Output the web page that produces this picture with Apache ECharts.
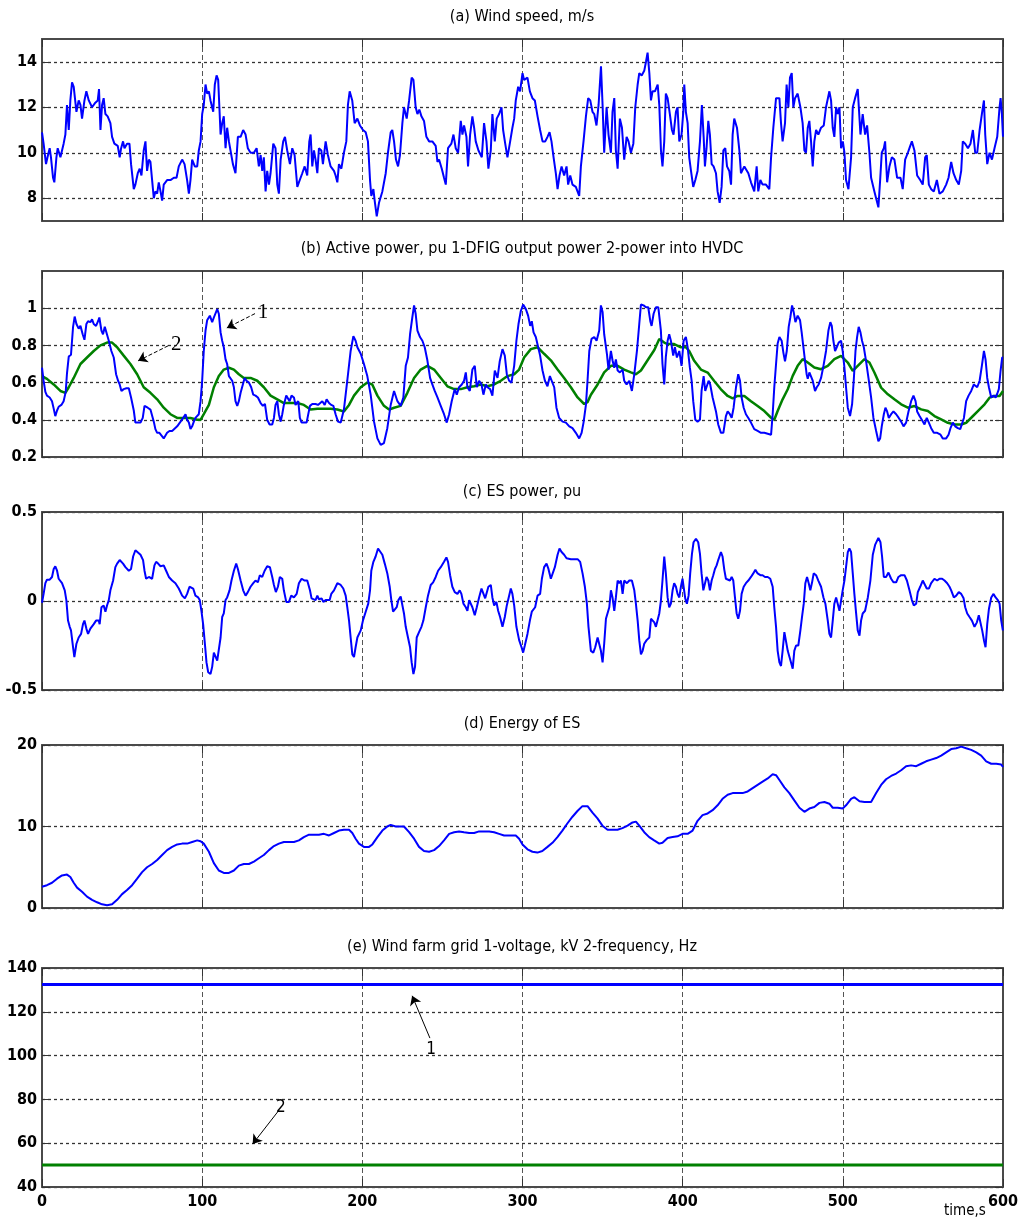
<!DOCTYPE html>
<html>
<head>
<meta charset="utf-8">
<script src="https://cdn.jsdelivr.net/npm/echarts@6/dist/echarts.min.js"></script>
<style>
  html, body { margin: 0; padding: 0; background: #fff; }
  #chart { width: 1021px; height: 1220px; }
</style>
</head>
<body>
<div id="chart"></div>
<script>
// (a) wind speed, m/s  [time s, value]
const windSpeed = [[0,10.9],[1,10.4],[2.5,9.5],[3.75,9.9],[4.8,10.2],[5.6,9.8],[6.9,8.9],[7.7,8.7],[9,9.8],[9.8,10.2],[11.5,9.8],[13.5,10.4],[14.6,10.8],[15.6,12.1],[16.7,11.0],[17.7,12.3],[18.75,13.1],[19.8,12.9],[21.5,11.8],[22.9,12.3],[24,12.1],[25,11.5],[26.5,12.3],[27.7,12.7],[29.2,12.3],[31.25,12.0],[33.3,12.2],[34.8,12.3],[35.6,12.8],[36.5,11.0],[37.5,12.1],[38.5,12.4],[39.6,11.7],[41,11.6],[42.7,11.3],[43.75,10.7],[45.2,10.4],[47.3,10.3],[48.5,9.8],[49.4,10.2],[50.6,10.5],[51.5,10.2],[53.1,10.4],[54.6,10.4],[55.6,9.5],[57.3,8.4],[58.3,8.6],[59.8,9.1],[61,9.3],[62.1,9.0],[63.5,10.1],[64.6,10.5],[65.6,9.2],[66.7,9.7],[67.7,9.6],[68.75,8.8],[69.8,8.0],[70.8,8.3],[71.9,8.2],[72.9,8.7],[74,8.3],[75,7.9],[76,8.6],[78.1,8.8],[80.2,8.8],[82.3,8.9],[84,8.9],[85.4,9.4],[87.5,9.7],[89,9.5],[90.6,8.8],[91.7,8.2],[92.7,8.8],[93.75,9.7],[95.4,9.4],[96.9,9.4],[97.9,10.1],[99,10.5],[100,11.7],[101,12.1],[102.1,13.0],[103.1,12.6],[104.2,12.7],[105.2,12.3],[106.9,11.8],[107.9,13.0],[109,13.4],[110,13.2],[111.5,10.8],[112.5,11.3],[113.5,11.6],[114.6,10.2],[115.6,11.1],[116.7,10.5],[117.7,10.1],[119.2,9.5],[120.8,9.1],[122.3,10.7],[124,10.7],[125.6,11.0],[127.1,10.8],[128.5,10.2],[130.2,10.0],[132.3,10.0],[134,10.2],[135.4,9.4],[136.5,9.9],[137.5,9.2],[138.5,9.8],[139.6,8.3],[140.6,9.2],[141.7,8.6],[142.7,9.1],[144.4,10.4],[145.8,10.2],[146.9,8.6],[147.9,8.2],[149,9.7],[150.6,10.5],[151.7,10.7],[153.1,10.1],[154.8,9.5],[156.25,10.2],[157.7,9.9],[159.4,8.5],[160.4,8.7],[162.5,9.1],[164,9.4],[165.6,9.0],[166.9,10.5],[167.7,10.8],[168.75,9.4],[169.8,10.1],[170.8,9.7],[171.9,9.1],[172.9,10.2],[174.4,10.1],[175.4,9.5],[177.1,10.5],[178.5,9.9],[180.2,9.4],[182.3,9.2],[183.3,9.0],[184.4,8.7],[185.4,9.5],[186.9,9.3],[188.5,10.0],[190,10.5],[191,12.1],[192.1,12.7],[193.7,12.3],[195.2,11.3],[196.9,11.5],[198.5,11.2],[200.4,11.0],[202.1,10.9],[203.5,10.5],[204.8,8.8],[205.6,8.1],[206.9,8.4],[207.7,7.9],[209,7.2],[210.4,7.8],[212.5,8.3],[214.6,9.1],[216,10.0],[217.7,10.9],[218.7,11.0],[219.8,10.5],[221,9.7],[222.3,9.4],[223.5,9.9],[225,11.3],[226,12.0],[227.7,11.5],[229.2,12.3],[230.8,13.3],[231.9,13.2],[233.3,12.0],[234.4,11.7],[235.6,11.9],[236.9,11.6],[238.5,11.4],[240,10.7],[241.7,10.5],[243.7,10.5],[245.8,10.3],[246.9,9.6],[247.9,9.7],[249.6,9.3],[251,8.9],[252.1,8.6],[253.5,10.2],[255.6,10.4],[256.9,10.8],[258.3,10.2],[259.8,10.0],[261.45,11.4],[262.5,10.8],[263.5,11.2],[265,10.7],[266,9.4],[267.3,10.8],[268.7,11.6],[269.8,11.1],[270.8,10.5],[272.5,10.1],[274.6,9.8],[276,11.3],[277.5,10.5],[278.7,9.3],[280.2,10.1],[281.2,11.7],[282.7,10.5],[283.9,11.5],[285.4,11.7],[286.9,12.0],[287.9,11.0],[289.2,10.4],[290.6,9.8],[292.3,10.5],[293.7,11.1],[294.8,11.5],[295.8,12.3],[297.3,12.9],[298.5,12.7],[300,13.5],[301,13.2],[303.1,13.3],[304.6,12.7],[306.2,12.4],[307.7,12.3],[309.4,11.6],[311,11.0],[312.5,10.5],[314.2,10.5],[315.6,10.7],[316.9,10.9],[318.1,10.5],[319.4,9.8],[320.8,9.1],[321.9,8.4],[323.1,9.0],[324.4,9.4],[326,9.0],[327.5,9.4],[328.5,8.6],[329.8,9.0],[331.2,8.6],[333.3,8.5],[335.4,8.1],[336.45,9.4],[338.1,10.5],[339.6,11.6],[341,12.4],[342.3,12.3],[343.7,11.8],[344.8,11.7],[346.2,11.2],[347.5,12.1],[349,13.8],[350,12.1],[351,10.0],[352.5,12.0],[353.7,10.8],[355.2,10.0],[356.2,11.8],[357.3,12.4],[358.3,10.1],[359.4,9.3],[360.8,11.5],[362.1,11.1],[363.5,9.7],[365,10.7],[366.2,10.5],[367.7,10.0],[369.2,10.4],[370.4,12.0],[371.9,13.0],[372.9,13.5],[374.4,13.4],[376,13.6],[377.1,14.0],[378.1,14.4],[379.2,13.5],[380.2,12.3],[381.2,12.7],[382.7,12.7],[384.4,13.0],[385.4,12.1],[386.45,10.1],[387.4,9.4],[388.5,10.5],[389.5,12.6],[390.6,12.4],[392,11.7],[393.3,11.0],[394.3,10.8],[395.8,11.8],[396.8,12.0],[397.9,10.5],[399.3,10.8],[400.4,11.8],[401,13.0],[402,11.8],[403.1,11.3],[404.1,9.8],[405.2,9.2],[406.6,8.5],[407.9,8.8],[409.3,9.2],[410.8,10.5],[412,12.1],[413.1,10.7],[413.9,9.4],[414.9,10.2],[416,11.4],[417,10.8],[418.1,9.5],[419.3,9.4],[420.8,9.1],[421.8,8.3],[423.1,7.8],[424.3,8.5],[425.4,10.1],[426.6,10.2],[427.7,9.4],[429.1,9.2],[430.2,8.6],[431.2,10.8],[432.2,11.5],[433.9,11.1],[435.4,10.1],[436.4,9.1],[438.5,9.4],[441,9.1],[442.65,8.7],[444.7,8.3],[446.2,9.4],[447.2,8.3],[448.5,8.8],[449.9,8.6],[452,8.6],[454.1,8.4],[455.2,9.8],[456.6,11.1],[458.3,12.4],[460.4,12.4],[461.4,11.3],[462.4,10.5],[463.9,11.3],[464.9,13.0],[466,12.0],[467,13.3],[468.1,13.5],[469.1,12.0],[470.15,12.4],[471.8,12.6],[473.5,12.0],[474.9,11.3],[476,10.1],[477,10.0],[478.1,11.1],[479.1,11.4],[480.15,10.5],[481.2,9.4],[482.2,10.5],[483.3,11.0],[484.7,10.8],[486.4,11.1],[488.1,11.2],[489.5,12.0],[491.6,12.7],[492.65,12.3],[493.7,11.1],[494.7,10.7],[495.8,12.0],[496.8,11.7],[497.9,12.0],[498.9,10.2],[500,10.5],[501,10.0],[502,8.8],[503.5,8.4],[505.15,9.8],[506.2,12.0],[507.65,12.4],[509.3,12.8],[511,10.8],[512.4,11.7],[513.9,10.8],[515.15,11.2],[516.6,10.0],[517.65,8.9],[519.7,8.3],[522.2,7.6],[523.3,8.8],[524.3,10.0],[525.6,10.2],[526.4,10.5],[527.65,8.7],[529.1,9.4],[530.6,9.8],[532.2,9.7],[533.9,8.9],[536,8.9],[537.4,8.4],[538.9,9.7],[540.6,10.0],[541.6,10.2],[543.1,10.5],[544.7,10.1],[546.4,9.0],[548.3,8.8],[549.9,8.6],[551.4,9.8],[552.4,9.9],[553.7,8.6],[555.15,8.4],[556.8,8.3],[558.7,8.8],[560.35,8.2],[562.4,8.3],[564.5,8.6],[566,8.9],[567.65,9.6],[569.1,9.1],[570.8,8.8],[572.4,8.6],[573.9,9.2],[574.9,10.5],[576.4,10.4],[578.1,10.2],[579.7,10.4],[581.2,11.0],[582.65,10.0],[583.9,10.0],[585.4,11.0],[586.8,11.7],[588.1,12.3],[588.9,10.8],[590.15,9.5],[591.6,10.0],[593.1,9.7],[594.7,10.2],[596.4,10.7],[597.85,12.0],[598.5,12.4],[599.3,11.7],[600,10.7]];

// (b) active power, pu: 1 - DFIG output power
const dfigPower = [[0,0.68],[1,0.61],[2.1,0.55],[3.1,0.53],[4.8,0.52],[6.25,0.50],[7.3,0.46],[8.3,0.42],[9.4,0.45],[10.4,0.47],[12.1,0.48],[13.5,0.50],[14.8,0.55],[15.6,0.65],[16.7,0.74],[18.1,0.75],[19.4,0.90],[20.4,0.955],[21.5,0.915],[22.9,0.89],[24,0.905],[25.4,0.86],[26.5,0.83],[27.7,0.915],[28.75,0.93],[30.2,0.925],[31.25,0.94],[32.3,0.915],[33.75,0.905],[35,0.93],[35.8,0.95],[37.1,0.88],[38.1,0.86],[39.2,0.90],[40.2,0.89],[41.7,0.825],[43.3,0.77],[44.8,0.735],[46.25,0.645],[47.5,0.61],[48.5,0.59],[49.6,0.555],[51,0.565],[52.7,0.57],[54.2,0.57],[55.6,0.52],[57.3,0.45],[58.3,0.385],[59.8,0.385],[61.5,0.385],[62.9,0.41],[64,0.475],[65,0.485],[66,0.465],[67.7,0.455],[68.75,0.455],[69.8,0.39],[70.8,0.35],[71.9,0.33],[73.3,0.33],[74.4,0.32],[76,0.30],[77.1,0.31],[78.1,0.33],[79.6,0.34],[81.25,0.34],[82.3,0.35],[84.4,0.365],[86.5,0.39],[88.1,0.41],[89.6,0.43],[90.6,0.40],[91.7,0.385],[92.7,0.35],[93.75,0.365],[94.8,0.39],[95.8,0.41],[96.9,0.40],[97.9,0.43],[99,0.50],[100,0.61],[101,0.77],[102.1,0.88],[103.1,0.935],[104.8,0.96],[106.25,0.925],[107.3,0.95],[108.3,0.96],[109.4,0.995],[110.4,0.97],[111.5,0.87],[112.5,0.825],[113.5,0.79],[114.6,0.725],[115.6,0.70],[116.7,0.635],[117.7,0.625],[118.75,0.61],[119.8,0.575],[120.8,0.50],[121.9,0.475],[122.9,0.50],[124,0.545],[125.4,0.59],[126.5,0.625],[127.7,0.61],[129.2,0.60],[130.6,0.575],[131.9,0.535],[133.3,0.53],[134.8,0.52],[136.5,0.49],[137.9,0.475],[139.2,0.485],[140.6,0.40],[142.1,0.375],[143.75,0.375],[144.8,0.41],[145.8,0.48],[146.9,0.50],[147.9,0.43],[149,0.39],[150,0.43],[151,0.48],[152.5,0.53],[153.5,0.52],[154.6,0.50],[155.8,0.53],[157.3,0.52],[158.3,0.48],[160,0.50],[161,0.41],[162.1,0.385],[163.5,0.385],[165.2,0.385],[166,0.42],[167.3,0.475],[168.75,0.485],[169.8,0.475],[170.8,0.485],[172.3,0.48],[173.5,0.485],[175,0.50],[176.5,0.48],[177.7,0.51],[179.2,0.49],[180.6,0.48],[181.9,0.475],[183.3,0.43],[184.8,0.39],[186.5,0.385],[188.5,0.455],[190.6,0.61],[192.7,0.77],[194.4,0.85],[195.8,0.825],[196.9,0.79],[199,0.755],[201,0.70],[203.1,0.635],[205.2,0.535],[207.3,0.39],[209.4,0.30],[211.45,0.265],[213.5,0.275],[215.6,0.355],[217.7,0.48],[219.8,0.555],[221.9,0.50],[223.95,0.475],[225.6,0.52],[227.1,0.69],[228.5,0.735],[229.8,0.86],[231.2,0.95],[232.3,1.015],[233.3,0.97],[234.4,0.88],[236,0.845],[237.5,0.825],[238.95,0.79],[240.6,0.72],[242.3,0.625],[243.7,0.59],[245.2,0.555],[246.9,0.52],[248.95,0.475],[251,0.43],[252.7,0.385],[254.2,0.43],[255.8,0.50],[257.7,0.565],[258.95,0.535],[260.4,0.575],[262.1,0.59],[263.5,0.61],[264.6,0.655],[265.6,0.575],[267.1,0.555],[268.7,0.67],[270.2,0.69],[271.45,0.575],[272.9,0.61],[274.4,0.59],[275.6,0.535],[277.1,0.59],[278.1,0.575],[279.8,0.565],[281.2,0.53],[282.7,0.665],[284.4,0.625],[285.8,0.715],[287.5,0.78],[288.95,0.745],[290.2,0.645],[291.65,0.61],[293.1,0.60],[294.8,0.69],[296.2,0.825],[297.5,0.915],[298.95,0.985],[300.4,1.02],[302.1,0.995],[303.5,0.96],[304.8,0.905],[305.8,0.93],[306.9,0.87],[308.3,0.845],[309.8,0.79],[311,0.745],[312.5,0.665],[314,0.61],[315.6,0.58],[317.1,0.635],[318.3,0.625],[319.8,0.575],[321.2,0.465],[322.9,0.41],[325,0.39],[327.1,0.385],[329.2,0.365],[331.2,0.355],[333.3,0.33],[335.4,0.30],[336.9,0.33],[338.1,0.385],[339.6,0.48],[340.6,0.61],[341.7,0.77],[343.1,0.835],[344.8,0.845],[346.25,0.825],[347.9,0.88],[348.95,1.015],[350,0.98],[351,0.86],[352.7,0.755],[353.7,0.67],[355.2,0.77],[356.2,0.72],[357.3,0.68],[358.3,0.725],[359.4,0.665],[360.8,0.655],[362.5,0.67],[363.5,0.61],[365,0.59],[366.7,0.61],[368.3,0.555],[369.8,0.645],[371.45,0.77],[372.9,0.915],[373.95,1.02],[375.6,1.015],[377.1,1.005],[378.5,1.005],[379.8,0.93],[380.6,0.905],[381.85,0.97],[383.3,1.005],[384.8,1.005],[386.4,0.88],[387.4,0.70],[388.5,0.59],[389.5,0.74],[390.6,0.825],[391.6,0.86],[392.65,0.825],[394.1,0.745],[395.15,0.79],[396.4,0.735],[397.9,0.77],[399.3,0.69],[400.6,0.825],[402,0.845],[403.1,0.79],[404.5,0.68],[405.6,0.61],[406.6,0.50],[407.9,0.40],[409.3,0.39],[410.8,0.40],[411.8,0.555],[413.1,0.635],[414.1,0.555],[415.15,0.545],[416.2,0.61],[417.2,0.59],[418.7,0.52],[420.8,0.445],[422.2,0.375],[423.9,0.33],[425.4,0.33],[427,0.42],[428.1,0.445],[429.5,0.43],[430.6,0.41],[431.8,0.465],[433.3,0.575],[434.7,0.645],[435.8,0.61],[436.8,0.52],[438.1,0.465],[439.5,0.43],[441,0.41],[442.65,0.385],[444.7,0.35],[446.8,0.34],[448.9,0.33],[451,0.33],[453.1,0.325],[455.2,0.32],[456.2,0.43],[457.2,0.575],[458.3,0.70],[459.3,0.81],[460.4,0.845],[461.8,0.825],[462.9,0.76],[463.9,0.715],[465,0.77],[466.2,0.90],[467.2,0.95],[468.3,1.015],[469.3,0.98],[470.4,0.925],[471.8,0.96],[473.3,0.935],[474.3,0.87],[475.4,0.79],[476.4,0.715],[477.4,0.645],[478.1,0.62],[479.1,0.655],[480.15,0.665],[481.2,0.61],[482.65,0.555],[483.7,0.575],[484.9,0.59],[486.4,0.625],[487.9,0.69],[489.5,0.77],[491,0.88],[492.2,0.925],[493.1,0.905],[494.1,0.825],[495.15,0.77],[496.2,0.79],[497.4,0.815],[498.9,0.825],[499.9,0.77],[501,0.68],[502,0.575],[503.1,0.465],[504.5,0.42],[505.8,0.485],[506.8,0.61],[507.9,0.77],[508.9,0.845],[509.9,0.90],[511,0.87],[512,0.825],[513.1,0.79],[514.5,0.715],[516,0.625],[517.65,0.52],[519.1,0.41],[520.8,0.34],[522.2,0.285],[523.3,0.30],[524.3,0.365],[525.6,0.43],[526.6,0.465],[527.65,0.445],[528.7,0.41],[530.15,0.43],[531.6,0.445],[533.3,0.43],[534.9,0.41],[536.4,0.39],[537.9,0.365],[539.5,0.385],[541,0.445],[542.65,0.50],[544.1,0.53],[545.4,0.50],[546.4,0.445],[547.9,0.42],[549.3,0.40],[551,0.375],[552.4,0.41],[553.7,0.385],[555.15,0.355],[556.8,0.33],[558.9,0.33],[561,0.32],[562.4,0.30],[564.5,0.30],[566,0.32],[567.2,0.355],[568.7,0.385],[570.15,0.365],[571.8,0.355],[573.3,0.35],[574.5,0.355],[575.6,0.41],[577,0.50],[578.5,0.53],[580.15,0.555],[581.8,0.59],[582.65,0.60],[583.9,0.575],[585.4,0.61],[586.8,0.69],[588.1,0.77],[589.1,0.725],[590.15,0.625],[591.2,0.575],[592.65,0.52],[594.1,0.53],[595.4,0.52],[596.4,0.54],[597.4,0.565],[598.5,0.665],[599.5,0.735],[600,0.735]];

// (b) active power, pu: 2 - power into HVDC
const hvdcPower = [[0,0.635],[3.1,0.62],[7.3,0.59],[11.5,0.555],[14.6,0.545],[16.7,0.575],[19.8,0.625],[24,0.70],[28.1,0.735],[32.3,0.77],[36.5,0.80],[40.6,0.815],[43.75,0.815],[46.9,0.79],[51,0.745],[55.2,0.70],[59.4,0.645],[63.5,0.575],[67.7,0.545],[71.9,0.51],[76,0.465],[80.2,0.43],[84.4,0.41],[88.5,0.41],[92.7,0.41],[96.9,0.40],[99,0.40],[101,0.43],[104.2,0.48],[107.3,0.575],[110.4,0.635],[113.5,0.67],[116.7,0.68],[119.8,0.67],[122.9,0.645],[126,0.625],[130.2,0.625],[134.4,0.61],[138.5,0.575],[142.7,0.53],[146.9,0.51],[151,0.49],[155.2,0.49],[159.4,0.49],[163.5,0.48],[167.7,0.455],[171.9,0.46],[176,0.46],[180.2,0.46],[184.4,0.455],[188.5,0.445],[191.7,0.48],[194.8,0.53],[199,0.575],[203.1,0.60],[206.2,0.59],[209.4,0.53],[213.5,0.475],[216.7,0.455],[219.8,0.465],[223.9,0.475],[228.1,0.545],[232.3,0.625],[236.45,0.67],[240.6,0.69],[244.8,0.67],[249,0.625],[253.1,0.58],[257.3,0.565],[261.45,0.565],[265.6,0.575],[269.8,0.58],[273.95,0.59],[278.1,0.58],[282.3,0.59],[286.45,0.61],[290.6,0.635],[294.8,0.645],[297.9,0.67],[301,0.735],[305.2,0.78],[309.4,0.79],[313.5,0.755],[317.7,0.72],[321.9,0.67],[326,0.625],[330.2,0.575],[334.4,0.52],[338.5,0.485],[340.6,0.495],[342.7,0.535],[346.9,0.59],[351,0.655],[355.2,0.69],[359.4,0.69],[363.5,0.67],[367.7,0.655],[370.8,0.645],[373.95,0.665],[378.1,0.72],[382.3,0.775],[385.4,0.835],[388.5,0.815],[390.6,0.807],[394.7,0.807],[398.9,0.79],[402,0.79],[404.1,0.77],[407.2,0.717],[411.4,0.67],[415.6,0.654],[419.7,0.609],[423.9,0.564],[428.1,0.528],[431.2,0.515],[434.3,0.528],[438.5,0.528],[442.65,0.50],[446.8,0.474],[451,0.447],[455.2,0.411],[457.2,0.40],[459.3,0.447],[462.4,0.51],[465.6,0.564],[468.7,0.636],[471.8,0.69],[474.9,0.726],[478.1,0.708],[482.2,0.681],[486.4,0.672],[490.6,0.69],[494.7,0.726],[498.9,0.744],[503.1,0.708],[506.2,0.663],[509.3,0.69],[513.5,0.726],[516.6,0.708],[519.7,0.654],[523.9,0.573],[528.1,0.537],[532.2,0.51],[536.4,0.483],[540.6,0.465],[544.7,0.474],[548.9,0.456],[553.1,0.447],[557.2,0.42],[561.4,0.402],[565.6,0.384],[569.7,0.375],[573.9,0.375],[577,0.384],[580.15,0.411],[584.3,0.447],[588.5,0.483],[591.6,0.519],[594.7,0.528],[597.85,0.528],[600,0.555]];

// (c) ES power, pu
const esPower = [[0,-0.01],[1,0.04],[2.1,0.10],[3.1,0.12],[4.8,0.12],[6.25,0.135],[7.3,0.18],[8.3,0.195],[9.4,0.17],[10.4,0.125],[12.5,0.10],[14.2,0.06],[15.2,0.005],[16.25,-0.11],[17.3,-0.145],[18.1,-0.165],[19.4,-0.26],[20.2,-0.315],[21.5,-0.24],[22.9,-0.205],[24.4,-0.185],[25.6,-0.13],[26.5,-0.11],[27.7,-0.155],[28.75,-0.185],[30.2,-0.155],[32.3,-0.13],[33.75,-0.11],[35.4,-0.11],[36,-0.13],[37.1,-0.035],[38.5,-0.025],[39.6,-0.06],[40.6,-0.025],[41.7,0.005],[42.7,0.06],[44.4,0.115],[45.8,0.19],[46.9,0.21],[48.5,0.23],[49.4,0.24],[50.6,0.21],[52.1,0.19],[54.2,0.17],[55.6,0.18],[56.9,0.25],[58.3,0.285],[59.4,0.28],[61.5,0.26],[63.1,0.23],[64,0.17],[65,0.125],[66.7,0.135],[68.75,0.125],[70.2,0.20],[71.25,0.22],[72.5,0.21],[74,0.195],[76,0.20],[77.5,0.17],[79.2,0.135],[81.25,0.115],[83.3,0.10],[85.4,0.07],[87.5,0.03],[89.2,0.015],[90.6,0.04],[92.1,0.08],[93.1,0.09],[94.4,0.07],[95.8,0.03],[97.5,0.02],[98.5,0.005],[99.6,-0.06],[100.6,-0.13],[101.7,-0.24],[102.7,-0.345],[103.75,-0.40],[105.2,-0.41],[106.25,-0.37],[107.3,-0.29],[108.3,-0.29],[109.4,-0.335],[110.4,-0.335],[111.5,-0.205],[112.5,-0.09],[113.5,-0.07],[114.6,0.005],[115.6,0.02],[117.1,0.06],[118.3,0.115],[119.8,0.17],[121.25,0.21],[122.3,0.18],[124,0.115],[125.6,0.06],[127.1,0.03],[128.5,0.05],[130.2,0.08],[131.9,0.10],[133.3,0.115],[134.8,0.105],[136,0.145],[137.5,0.135],[139,0.17],[140.6,0.195],[142.3,0.19],[143.75,0.135],[144.8,0.09],[146,0.05],[147.3,0.08],[148.5,0.135],[150,0.125],[151,0.06],[152.5,-0.005],[154.2,-0.005],[155.6,0.03],[157.3,0.02],[159,0.04],[160.4,0.10],[162.1,0.125],[164,0.115],[165.6,0.115],[167.3,0.06],[168.3,0.015],[169.4,0.005],[170.8,0.005],[171.9,0.03],[172.9,0.01],[174.6,0.015],[175.6,-0.005],[177.1,0.005],[178.1,-0.005],[179.6,0.005],[180.6,0.04],[182.3,0.06],[184.4,0.10],[186.5,0.09],[188.1,0.07],[189.6,0.03],[190.6,-0.035],[191.7,-0.11],[192.7,-0.205],[193.75,-0.30],[194.8,-0.315],[195.8,-0.26],[196.9,-0.205],[199,-0.165],[200.4,-0.11],[202.1,-0.06],[203.7,-0.015],[204.8,0.06],[205.6,0.17],[206.9,0.22],[208.3,0.25],[209.8,0.295],[211,0.29],[212.5,0.26],[214,0.21],[215.6,0.155],[217.1,0.08],[218.1,0.005],[219.2,-0.06],[220.2,-0.07],[221.45,-0.035],[222.5,0.005],[223.95,0.025],[225,0.015],[226,-0.07],[227.1,-0.145],[228.5,-0.205],[229.8,-0.26],[230.8,-0.345],[231.9,-0.41],[232.9,-0.37],[233.95,-0.205],[235.4,-0.175],[236.9,-0.145],[238.1,-0.11],[239.6,-0.035],[241,0.03],[242.7,0.09],[244.2,0.105],[245.8,0.135],[247.3,0.17],[248.95,0.19],[251,0.22],[252.5,0.245],[253.5,0.22],[254.8,0.145],[256.2,0.08],[257.7,0.05],[259.4,0.04],[260.8,0.06],[261.85,0.04],[263.1,-0.015],[264.6,-0.035],[265.6,-0.055],[266.7,0.005],[267.7,-0.005],[268.7,-0.035],[270.2,-0.08],[271.45,-0.035],[272.9,0.02],[274.4,0.07],[275.6,0.07],[276.7,0.015],[277.7,0.005],[278.7,0.08],[280.2,0.09],[281.2,0.02],[282.3,-0.025],[283.7,-0.005],[284.8,-0.055],[286,-0.09],[287.5,-0.145],[288.95,-0.09],[290.2,-0.025],[291.65,0.03],[292.7,0.07],[293.7,0.04],[294.8,-0.025],[296.2,-0.145],[297.9,-0.22],[299.4,-0.26],[300.4,-0.29],[301.45,-0.25],[303.1,-0.185],[304.6,-0.11],[305.8,-0.06],[306.9,-0.07],[307.9,-0.035],[309.4,0.03],[311,0.04],[312.1,0.125],[313.5,0.19],[315,0.21],[316.2,0.18],[317.7,0.125],[318.7,0.125],[320.2,0.19],[321.9,0.26],[323.1,0.295],[324.4,0.275],[326,0.26],[327.5,0.24],[328.7,0.245],[330.2,0.235],[332.3,0.235],[334.4,0.235],[336,0.22],[337.5,0.155],[338.95,0.08],[340.2,-0.015],[341.2,-0.145],[342.7,-0.28],[344.2,-0.29],[345.4,-0.26],[346.9,-0.205],[347.9,-0.215],[348.95,-0.28],[350,-0.345],[351,-0.24],[352.1,-0.10],[353.1,-0.09],[354.2,-0.035],[355.2,0.06],[356.2,0.02],[357.3,-0.055],[358.3,0.02],[359.4,0.115],[360.4,0.10],[361.45,0.115],[362.5,0.04],[363.5,0.115],[365.2,0.10],[366.7,0.115],[368.3,0.115],[369.8,0.06],[370.8,-0.015],[371.9,-0.11],[372.9,-0.22],[373.95,-0.30],[375,-0.28],[376,-0.24],[377.5,-0.22],[379.2,-0.205],[380.2,-0.10],[381.2,-0.09],[382.3,-0.12],[383.3,-0.145],[384.4,-0.155],[385.4,-0.07],[386.4,0.0],[387.4,0.115],[388.5,0.25],[389.5,0.155],[390.6,0.02],[391.6,-0.035],[392.65,-0.015],[393.7,0.06],[394.7,0.10],[395.8,0.08],[396.8,0.04],[397.9,0.02],[398.9,0.08],[399.9,0.125],[401,0.115],[401.6,0.015],[402.65,-0.015],[403.7,0.03],[404.7,0.155],[405.8,0.265],[406.8,0.33],[408.3,0.35],[409.7,0.33],[410.8,0.265],[411.8,0.155],[412.9,0.06],[413.9,0.07],[414.9,0.135],[416,0.115],[417,0.06],[418.1,0.115],[419.1,0.145],[420.15,0.18],[421.2,0.20],[422.2,0.23],[423.9,0.275],[424.9,0.25],[426,0.175],[427,0.125],[428.1,0.115],[429.5,0.115],[430.6,0.135],[431.6,0.115],[432.65,0.02],[433.7,-0.07],[434.7,-0.10],[435.8,-0.055],[436.8,0.04],[438.1,0.08],[439.5,0.10],[441,0.115],[442.65,0.135],[444.1,0.155],[445.4,0.175],[446.8,0.155],[448.5,0.145],[449.9,0.145],[451.4,0.135],[453.1,0.135],[454.7,0.125],[456.2,0.08],[457.2,-0.035],[458.3,-0.145],[459.3,-0.28],[460.4,-0.345],[461.4,-0.365],[462.4,-0.28],[463.5,-0.175],[464.5,-0.165],[465.6,-0.28],[466.6,-0.29],[467.65,-0.345],[468.7,-0.38],[469.7,-0.28],[470.8,-0.25],[472.2,-0.25],[473.5,-0.165],[474.5,-0.09],[475.6,-0.015],[476.6,0.10],[477.65,0.135],[478.7,0.10],[479.7,0.06],[480.8,0.105],[481.8,0.155],[483.3,0.145],[484.7,0.115],[486.4,0.08],[487.9,0.02],[489.1,-0.015],[490.6,-0.11],[491.6,-0.185],[492.65,-0.205],[493.7,-0.11],[494.7,-0.015],[495.8,0.02],[496.8,-0.015],[497.9,-0.055],[498.9,-0.06],[499.9,0.06],[501,0.115],[502,0.19],[503.1,0.275],[504.1,0.295],[505.15,0.275],[506.2,0.155],[507.2,0.04],[508.3,-0.07],[509.3,-0.165],[510.4,-0.195],[511.4,-0.11],[512.4,-0.07],[513.9,-0.055],[515.6,0.02],[517.2,0.115],[518.7,0.26],[520.15,0.315],[522.2,0.355],[523.5,0.33],[524.5,0.25],[525.6,0.135],[527,0.135],[528.5,0.16],[530.15,0.125],[531.6,0.105],[533.3,0.105],[534.7,0.135],[536.4,0.145],[538.5,0.145],[540,0.115],[541.6,0.06],[543.1,0.005],[544.3,-0.025],[545.8,-0.015],[546.8,0.05],[548.3,0.08],[549.9,0.115],[551,0.115],[552.4,0.07],[553.7,0.07],[555.15,0.10],[557.2,0.125],[558.9,0.115],[560.35,0.125],[562,0.125],[563.5,0.115],[565.15,0.10],[566.6,0.08],[567.65,0.06],[569.3,0.02],[570.8,0.03],[572.4,0.05],[573.9,0.04],[575.4,0.015],[576.4,-0.035],[577.65,-0.07],[579.1,-0.09],[580.6,-0.11],[582.2,-0.145],[583.7,-0.12],[584.9,-0.08],[586,-0.09],[587,-0.165],[588.1,-0.22],[589.1,-0.26],[590.15,-0.13],[591.2,-0.045],[592.65,0.02],[594.1,0.04],[595.4,0.02],[596.8,0.005],[597.85,-0.015],[598.9,-0.11],[599.9,-0.165],[600,-0.16]];

// (d) energy of ES
const esEnergy = [[0,2.6],[3.1,2.8],[6.25,3.1],[9.4,3.6],[12.5,4.0],[15.6,4.1],[17.7,3.8],[19.8,3.1],[21.9,2.5],[25,2.0],[28.1,1.4],[31.25,1.0],[34.4,0.7],[37.5,0.45],[40.6,0.35],[43.75,0.45],[46.9,1.0],[50,1.7],[53.1,2.2],[56.25,2.8],[59.4,3.6],[62.5,4.4],[65.6,5.0],[68.75,5.4],[71.9,5.9],[75,6.5],[78.1,7.1],[81.25,7.5],[84.4,7.8],[87.5,7.9],[90.6,7.9],[93.75,8.1],[96.9,8.3],[99,8.2],[101,7.9],[104.2,6.9],[107.3,5.5],[110.4,4.6],[113.5,4.3],[116.7,4.3],[119.8,4.6],[122.9,5.2],[126,5.4],[129.2,5.4],[132.3,5.7],[135.4,6.1],[138.5,6.5],[141.7,7.1],[144.8,7.6],[147.9,7.9],[151,8.1],[154.2,8.1],[157.3,8.1],[160.4,8.3],[163.5,8.7],[166.7,9.0],[169.8,9.0],[172.9,9.0],[176,9.1],[179.2,8.9],[182.3,9.2],[185.4,9.5],[188.5,9.6],[191.7,9.6],[193.75,9.2],[195.8,8.5],[197.9,7.9],[201,7.5],[204.2,7.5],[206.25,7.8],[209.4,8.7],[212.5,9.5],[215.6,10.0],[217.7,10.2],[220.8,10.0],[224,10.0],[226,10.0],[229.2,9.3],[232.3,8.5],[235.4,7.5],[238.5,7.0],[241.7,6.9],[244.8,7.1],[247.9,7.6],[251,8.3],[254.2,9.1],[257.3,9.3],[260.4,9.4],[263.5,9.3],[266.7,9.2],[269.8,9.2],[272.9,9.4],[276,9.4],[279.2,9.4],[282.3,9.3],[285.4,9.1],[288.5,8.9],[292.65,8.9],[295.8,8.9],[297.9,8.5],[300,7.8],[303.1,7.2],[306.2,6.9],[309.3,6.8],[312.4,7.0],[315.6,7.5],[318.7,8.0],[321.8,8.7],[324.9,9.5],[328.1,10.4],[331.2,11.2],[334.3,11.9],[337.4,12.5],[340.6,12.5],[343.7,11.7],[346.8,11.0],[349.9,10.1],[353.1,9.6],[356.2,9.6],[359.3,9.6],[362.4,9.8],[365.6,10.1],[368.7,10.5],[370.8,10.6],[372.9,10.1],[376,9.3],[379.1,8.7],[382.2,8.3],[385.4,7.9],[387.4,8.0],[390.6,8.6],[393.7,8.7],[396.8,8.8],[399.9,9.1],[403.1,9.1],[406.2,9.5],[409.3,10.7],[412.4,11.4],[415.6,11.6],[418.7,12.0],[421.8,12.6],[424.9,13.4],[428.1,13.9],[431.2,14.1],[434.3,14.1],[437.4,14.1],[440.6,14.3],[443.7,14.7],[446.8,15.1],[449.9,15.5],[453.1,15.9],[456.2,16.4],[458.3,16.3],[460.4,15.7],[463.5,14.8],[466.6,14.1],[469.7,13.2],[472.9,12.3],[476,11.8],[479.1,12.2],[482.2,12.4],[485.4,12.9],[488.5,13.0],[491.6,12.8],[493.7,12.3],[496.8,12.3],[499.9,12.2],[502,12.6],[505.15,13.4],[507.2,13.6],[510.4,13.1],[513.5,13.0],[517.65,13.0],[520.8,14.1],[523.9,15.1],[527,15.8],[530.15,16.2],[533.3,16.5],[536.4,16.9],[539.5,17.4],[542.65,17.5],[545.8,17.4],[548.9,17.7],[552,18.0],[555.15,18.2],[558.3,18.4],[561.4,18.7],[564.5,19.1],[567.65,19.5],[570.8,19.6],[573.9,19.8],[577,19.6],[580.15,19.4],[583.3,19.1],[586.4,18.7],[589.5,18.0],[592.65,17.7],[595.8,17.7],[598.9,17.6],[600,17.3]];

// (e) wind farm grid: 1 - voltage kV, 2 - frequency Hz
const gridVoltage = [[0,132.5],[600,132.5]];
const gridFrequency = [[0,50],[600,50]];

// tick labels
const timeTicks = [0, 100, 200, 300, 400, 500, 600];
const ticksA = [8, 10, 12, 14];
const ticksB = [0.2, 0.4, 0.6, 0.8, 1];
const ticksC = [-0.5, 0, 0.5];
const ticksD = [0, 10, 20];
const ticksE = [40, 60, 80, 100, 120, 140];

const titles = [
  '(a) Wind speed, m/s',
  '(b) Active power, pu 1-DFIG output power 2-power into HVDC',
  '(c) ES power, pu',
  '(d) Energy of ES',
  '(e) Wind farm grid 1-voltage, kV 2-frequency, Hz'
];

// panel layout
const panels = [
  { top: 39,  height: 182, min: 7,    max: 15,  ticks: ticksA, titleTop: 9 },
  { top: 271, height: 186, min: 0.2,  max: 1.2, ticks: ticksB, titleTop: 241 },
  { top: 512, height: 178, min: -0.5, max: 0.5, ticks: ticksC, titleTop: 484 },
  { top: 745, height: 163, min: 0,    max: 20,  ticks: ticksD, titleTop: 716 },
  { top: 968, height: 219, min: 40,   max: 140, ticks: ticksE, titleTop: 939 }
];

const NARROW = '"Liberation Sans Narrow", "DejaVu Sans Condensed", "Liberation Sans", sans-serif';
const frameLine = { show: true, onZero: false, lineStyle: { color: '#4a4a4a', width: 2 } };
const tickStyle = { show: true, inside: true, length: 8, lineStyle: { color: '#333', width: 1 } };
const labelStyle = { color: '#000', fontFamily: NARROW, fontWeight: 'bold', fontSize: 16 };

const grid = [], xAxis = [], yAxis = [], title = [];
panels.forEach((p, i) => {
  const last = i === panels.length - 1;
  grid.push({ left: 42, right: 18, top: p.top, height: p.height });
  xAxis.push({
    type: 'value', gridIndex: i, min: 0, max: 600,
    axisLine: frameLine,
    axisTick: Object.assign({ customValues: timeTicks }, tickStyle),
    axisLabel: Object.assign({ show: last, customValues: timeTicks, margin: 7 }, labelStyle),
    splitLine: { show: true, lineStyle: { color: '#555', type: [5, 3], width: 1 } }
  });
  xAxis.push({
    type: 'value', gridIndex: i, position: 'top', min: 0, max: 600,
    axisLine: frameLine,
    axisTick: Object.assign({ customValues: timeTicks }, tickStyle),
    axisLabel: { show: false }, splitLine: { show: false }
  });
  yAxis.push({
    type: 'value', gridIndex: i, min: p.min, max: p.max,
    axisLine: frameLine,
    axisTick: Object.assign({ customValues: p.ticks }, tickStyle),
    axisLabel: Object.assign({ customValues: p.ticks, margin: 5 }, labelStyle),
    splitLine: { show: true, lineStyle: { color: '#333', type: [3, 3], width: 1.3 } }
  });
  yAxis.push({
    type: 'value', gridIndex: i, position: 'right', min: p.min, max: p.max,
    axisLine: frameLine,
    axisTick: Object.assign({ customValues: p.ticks }, tickStyle),
    axisLabel: { show: false }, splitLine: { show: false }
  });
  title.push({
    text: titles[i], left: 522, top: p.titleTop, textAlign: 'center', padding: 0,
    textStyle: { color: '#000', fontFamily: NARROW, fontWeight: 'normal', fontSize: 16 }
  });
});
title.push({
  text: 'time,s', left: 944, top: 1204, padding: 0,
  textStyle: { color: '#000', fontFamily: NARROW, fontWeight: 'normal', fontSize: 15 }
});

// annotation arrows: [label, from, to] in data units
const arrowsB = [
  ['1', [133, 0.971], [115.4, 0.894]],
  ['2', [78.8, 0.798], [60, 0.717]]
];
const arrowsE = [
  ['1', [242.2, 108], [231.1, 127.3]],
  ['2', [148, 75.1], [131.5, 59.6]]
];
function arrowMarks(list, dashed, fontFamily, fontSize) {
  return {
    silent: true, animation: false,
    symbol: ['none', 'arrow'], symbolSize: 9,
    lineStyle: { color: '#000', width: 1, type: dashed ? [4, 2] : 'solid' },
    label: { show: true, position: 'start', distance: 3, color: '#000', fontFamily: fontFamily, fontSize: fontSize },
    data: list.map(a => [
      { coord: a[1], name: a[0], label: { formatter: a[0] } },
      { coord: a[2] }
    ])
  };
}

function lineSeries(idx, data, color, width, extra) {
  return Object.assign({
    type: 'line', xAxisIndex: idx * 2, yAxisIndex: idx * 2, data: data,
    symbol: 'none', showSymbol: false, smooth: false,
    lineStyle: { color: color, width: width }, itemStyle: { color: color }
  }, extra || {});
}

const BLUE = '#0000ff', GREEN = '#008000';
const SERIF = '"Liberation Serif", "DejaVu Serif", serif';

const chart = echarts.init(document.getElementById('chart'));
chart.setOption({
  animation: false,
  backgroundColor: '#fff',
  title: title,
  grid: grid,
  xAxis: xAxis,
  yAxis: yAxis,
  series: [
    lineSeries(0, windSpeed, BLUE, 2),
    lineSeries(1, hvdcPower, GREEN, 2.5),
    lineSeries(1, dfigPower, BLUE, 2, { markLine: arrowMarks(arrowsB, true, SERIF, 21) }),
    lineSeries(2, esPower, BLUE, 2),
    lineSeries(3, esEnergy, BLUE, 2),
    lineSeries(4, gridVoltage, BLUE, 3, { markLine: arrowMarks(arrowsE.slice(0, 1), false, NARROW, 17) }),
    lineSeries(4, gridFrequency, GREEN, 3, { markLine: arrowMarks(arrowsE.slice(1), false, NARROW, 17) })
  ]
});
window.addEventListener('resize', () => chart.resize());
</script>
</body>
</html>
